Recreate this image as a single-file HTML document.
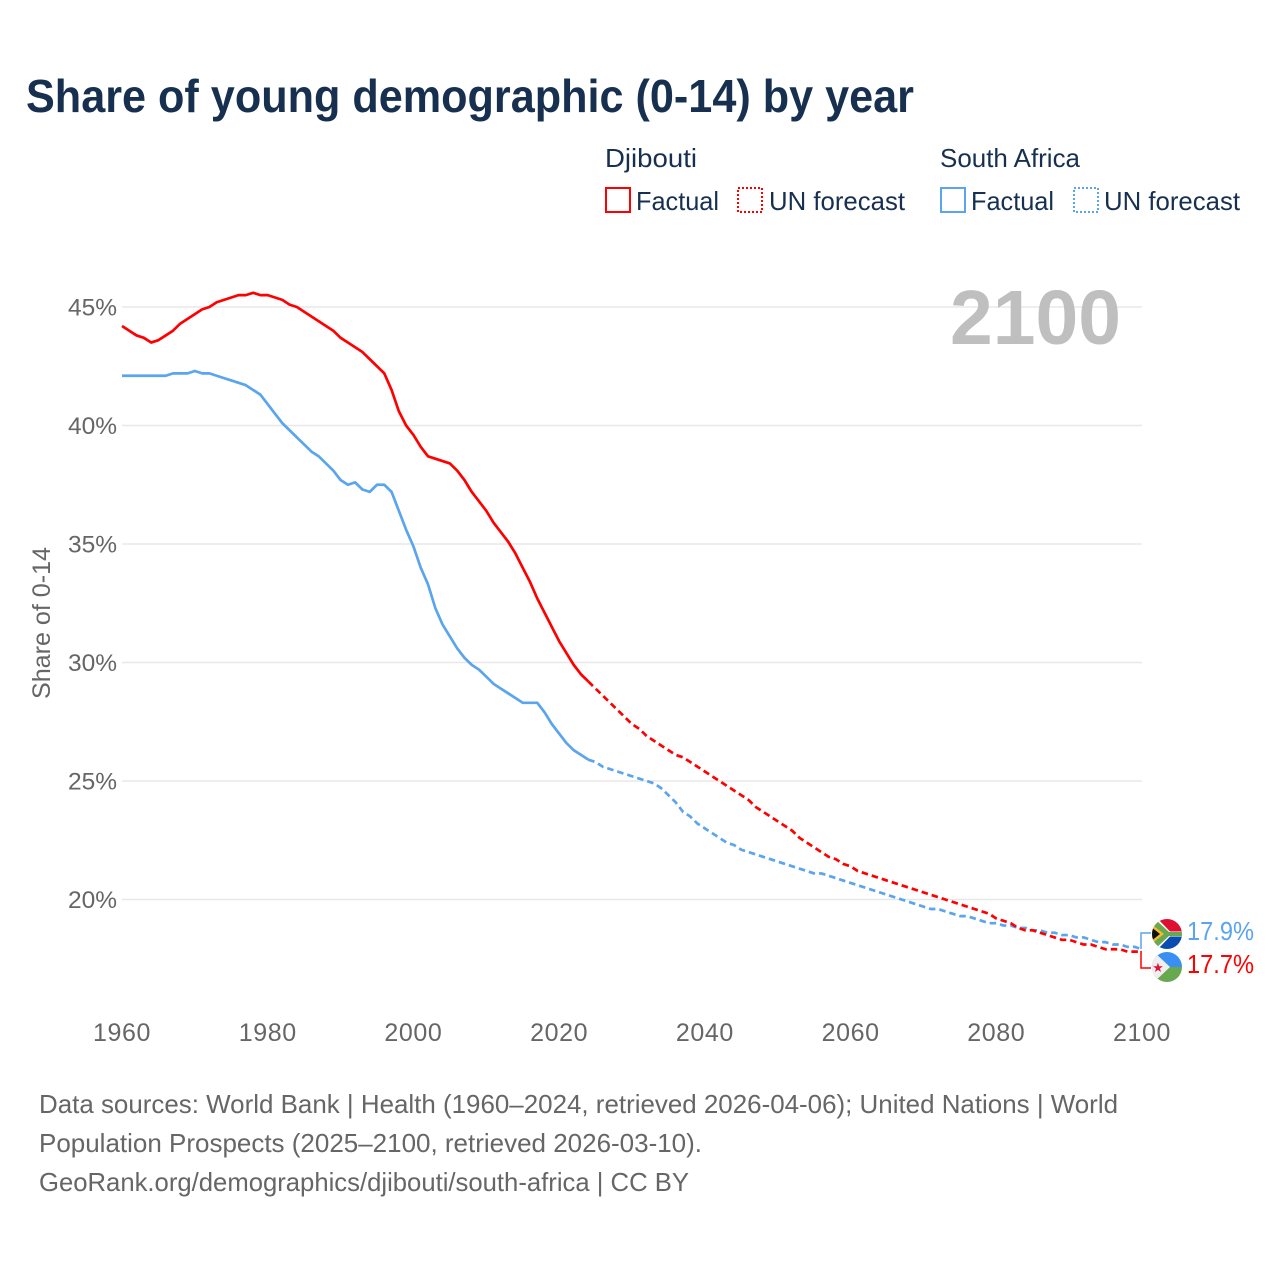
<!DOCTYPE html>
<html lang="en">
<head>
<meta charset="utf-8">
<title>Share of young demographic (0-14) by year</title>
<style>
html,body{margin:0;padding:0;background:#fff;width:1280px;height:1280px;overflow:hidden}
svg{display:block}
text{font-family:"Liberation Sans",sans-serif}
</style>
</head>
<body>
<svg id="chart" xmlns="http://www.w3.org/2000/svg" width="1280" height="1280" viewBox="0 0 1280 1280">
  <defs>
    <clipPath id="clip-za"><circle cx="1167" cy="934" r="15"/></clipPath>
    <clipPath id="clip-dj"><circle cx="1167" cy="967" r="15"/></clipPath>
  </defs>
  <text x="26" y="112" font-size="46" font-weight="700" fill="#17304f" textLength="888" lengthAdjust="spacingAndGlyphs">Share of young demographic (0-14) by year</text>

  <g>
    <text x="605" y="167" font-size="26" fill="#17304f" textLength="92" lengthAdjust="spacingAndGlyphs">Djibouti</text>
    <rect x="606" y="188" width="24" height="24" fill="none" stroke="#ff0000" stroke-width="2"/>
    <text x="636" y="210" font-size="26" fill="#17304f" textLength="83" lengthAdjust="spacingAndGlyphs">Factual</text>
    <rect x="738" y="188" width="24" height="24" fill="none" stroke="#ff0000" stroke-width="2" stroke-dasharray="2,2"/>
    <text x="769" y="210" font-size="26" fill="#17304f" textLength="136" lengthAdjust="spacingAndGlyphs">UN forecast</text>
    <text x="940" y="167" font-size="26" fill="#17304f" textLength="140" lengthAdjust="spacingAndGlyphs">South Africa</text>
    <rect x="941" y="188" width="24" height="24" fill="none" stroke="#5ba4ee" stroke-width="2"/>
    <text x="971" y="210" font-size="26" fill="#17304f" textLength="83" lengthAdjust="spacingAndGlyphs">Factual</text>
    <rect x="1074" y="188" width="24" height="24" fill="none" stroke="#5ba4ee" stroke-width="2" stroke-dasharray="2,2"/>
    <text x="1104" y="210" font-size="26" fill="#17304f" textLength="136" lengthAdjust="spacingAndGlyphs">UN forecast</text>
  </g>

  <g id="grid"></g>
  <g id="y-axis"></g>
  <g id="x-axis"></g>

  <text x="950" y="344" font-size="77" font-weight="700" fill="#bfbfbf" textLength="171" lengthAdjust="spacingAndGlyphs">2100</text>
  <text transform="translate(50,623) rotate(-90)" text-anchor="middle" font-size="25" fill="#666666" textLength="152" lengthAdjust="spacingAndGlyphs">Share of 0-14</text>

  <g id="series"></g>

  <path d="M1141 949V933H1151" fill="none" stroke="#5ba4ee" stroke-width="1.500"/>
  <path d="M1141 951V968H1151" fill="none" stroke="#ff0000" stroke-width="1.500"/>

  <g clip-path="url(#clip-za)">
    <rect x="1152" y="919" width="30" height="15" fill="#de0f33"/>
    <rect x="1152" y="934" width="30" height="15" fill="#0a4db0"/>
    <path d="M1149 919H1158L1170 931.500H1182V936.500H1170L1158 949H1149Z" fill="#ffffff"/>
    <path d="M1150 919H1155L1169 932H1182V936H1169L1155 949H1150Z" fill="#6aa84f"/>
    <path d="M1150 923L1164 934L1150 945Z" fill="#f2bd2c"/>
    <path d="M1150 926L1160 934L1150 942Z" fill="#111111"/>
  </g>
  <g clip-path="url(#clip-dj)">
    <rect x="1152" y="952" width="30" height="15" fill="#3a8ff2"/>
    <rect x="1152" y="967" width="30" height="15" fill="#6aa84f"/>
    <path d="M1152 950L1170 967L1152 984Z" fill="#efefef"/>
    <text x="1158" y="972" font-size="13" text-anchor="middle" fill="#e0123a">★</text>
  </g>

  <text x="1187" y="940" font-size="26" fill="#5ba4ee" textLength="67" lengthAdjust="spacingAndGlyphs">17.9%</text>
  <text x="1187" y="973" font-size="26" fill="#ff0000" textLength="67" lengthAdjust="spacingAndGlyphs">17.7%</text>

  <g>
    <text x="39" y="1113" font-size="26" fill="#666666" textLength="1079" lengthAdjust="spacingAndGlyphs">Data sources: World Bank | Health (1960–2024, retrieved 2026-04-06); United Nations | World</text>
    <text x="39" y="1152" font-size="26" fill="#666666" textLength="663" lengthAdjust="spacingAndGlyphs">Population Prospects (2025–2100, retrieved 2026-03-10).</text>
    <text x="39" y="1191" font-size="26" fill="#666666" textLength="650" lengthAdjust="spacingAndGlyphs">GeoRank.org/demographics/djibouti/south-africa | CC BY</text>
  </g>
</svg>
<script>
const xTicks = [1960, 1980, 2000, 2020, 2040, 2060, 2080, 2100];
const yTicks = [20, 25, 30, 35, 40, 45];
const factualStart = 1960;
const forecastStart = 2024;
const djiboutiFactual = [44.2,44.0,43.8,43.7,43.5,43.6,43.8,44.0,44.3,44.5,44.7,44.9,45.0,45.2,45.3,45.4,45.5,45.5,45.6,45.5,45.5,45.4,45.3,45.1,45.0,44.8,44.6,44.4,44.2,44.0,43.7,43.5,43.3,43.1,42.8,42.5,42.2,41.5,40.6,40.0,39.6,39.1,38.7,38.6,38.5,38.4,38.1,37.7,37.2,36.8,36.4,35.9,35.5,35.1,34.6,34.0,33.4,32.7,32.1,31.5,30.9,30.4,29.9,29.5,29.2];
const djiboutiForecast = [29.2,28.9,28.6,28.3,28.0,27.7,27.4,27.2,26.9,26.7,26.5,26.3,26.1,26.0,25.8,25.6,25.4,25.2,25.0,24.8,24.6,24.4,24.2,23.9,23.7,23.5,23.3,23.1,22.9,22.6,22.4,22.2,22.0,21.8,21.7,21.5,21.4,21.2,21.1,21.0,20.9,20.8,20.7,20.6,20.5,20.4,20.3,20.2,20.1,20.0,19.9,19.8,19.7,19.6,19.5,19.4,19.2,19.1,19.0,18.8,18.7,18.7,18.6,18.5,18.4,18.3,18.3,18.2,18.1,18.1,18.0,17.9,17.9,17.9,17.8,17.8,17.8];
const southAfricaFactual = [42.1,42.1,42.1,42.1,42.1,42.1,42.1,42.2,42.2,42.2,42.3,42.2,42.2,42.1,42.0,41.9,41.8,41.7,41.5,41.3,40.9,40.5,40.1,39.8,39.5,39.2,38.9,38.7,38.4,38.1,37.7,37.5,37.6,37.3,37.2,37.5,37.5,37.2,36.4,35.6,34.9,34.0,33.3,32.3,31.6,31.1,30.6,30.2,29.9,29.7,29.4,29.1,28.9,28.7,28.5,28.3,28.3,28.3,27.9,27.4,27.0,26.6,26.3,26.1,25.9];
const southAfricaForecast = [25.9,25.8,25.6,25.5,25.4,25.3,25.2,25.1,25.0,24.9,24.7,24.4,24.1,23.7,23.5,23.2,23.0,22.8,22.6,22.4,22.3,22.1,22.0,21.9,21.8,21.7,21.6,21.5,21.4,21.3,21.2,21.1,21.1,21.0,20.9,20.8,20.7,20.6,20.5,20.4,20.3,20.2,20.1,20.0,19.9,19.8,19.7,19.6,19.6,19.5,19.4,19.3,19.3,19.2,19.1,19.0,19.0,18.9,18.9,18.8,18.8,18.7,18.7,18.6,18.6,18.5,18.5,18.4,18.4,18.3,18.2,18.2,18.1,18.1,18.0,18.0,17.9];

const SVG_NS = 'http://www.w3.org/2000/svg';
function xScale(year) { return 122 + (year - 1960) * (1020 / 140); }
function yScale(pct) { return 899.5 - (pct - 20) * (592.5 / 25); }

const gridGroup = document.getElementById('grid');
const yAxisGroup = document.getElementById('y-axis');
const xAxisGroup = document.getElementById('x-axis');
const seriesGroup = document.getElementById('series');

yTicks.forEach(function (t) {
  const line = document.createElementNS(SVG_NS, 'line');
  
  
  line.setAttribute('x1', xScale(1960));
  line.setAttribute('x2', xScale(2100));
  line.setAttribute('y1', yScale(t));
  line.setAttribute('y2', yScale(t));
  line.setAttribute('stroke', '#e8e8e8');
  line.setAttribute('stroke-width', '1.5');
  gridGroup.appendChild(line);

  const label = document.createElementNS(SVG_NS, 'text');
  
  
  label.setAttribute('x', 117);
  label.setAttribute('y', yScale(t) + 8.5);
  label.setAttribute('text-anchor', 'end');
  label.setAttribute('font-size', '24.5');
  label.setAttribute('fill', '#666666');
  label.textContent = t + '%';
  yAxisGroup.appendChild(label);
});

xTicks.forEach(function (t) {
  const label = document.createElementNS(SVG_NS, 'text');
  
  
  label.setAttribute('x', xScale(t));
  label.setAttribute('y', 1041);
  label.setAttribute('text-anchor', 'middle');
  label.setAttribute('font-size', '25');
  label.setAttribute('letter-spacing', '0.6');
  label.setAttribute('fill', '#666666');
  label.textContent = t;
  xAxisGroup.appendChild(label);
});

function drawSeries(values, startYear, color, dash, name) {
  const pts = values.map(function (v, i) {
    return xScale(startYear + i).toFixed(2) + ',' + yScale(v).toFixed(2);
  }).join(' ');
  const poly = document.createElementNS(SVG_NS, 'polyline');
  
  
  poly.setAttribute('points', pts);
  poly.setAttribute('fill', 'none');
  poly.setAttribute('stroke', color);
  poly.setAttribute('stroke-width', '2.7');
  poly.setAttribute('stroke-linejoin', 'round');
  if (dash) { poly.setAttribute('stroke-dasharray', dash); }
  seriesGroup.appendChild(poly);
}

drawSeries(southAfricaFactual, factualStart, '#5ba4ee', null, 'south-africa-factual-line');
drawSeries(southAfricaForecast, forecastStart, '#5ba4ee', '6.5,4', 'south-africa-forecast-line');
drawSeries(djiboutiFactual, factualStart, '#ff0000', null, 'djibouti-factual-line');
drawSeries(djiboutiForecast, forecastStart, '#ff0000', '6.5,4', 'djibouti-forecast-line');
</script>
</body>
</html>
